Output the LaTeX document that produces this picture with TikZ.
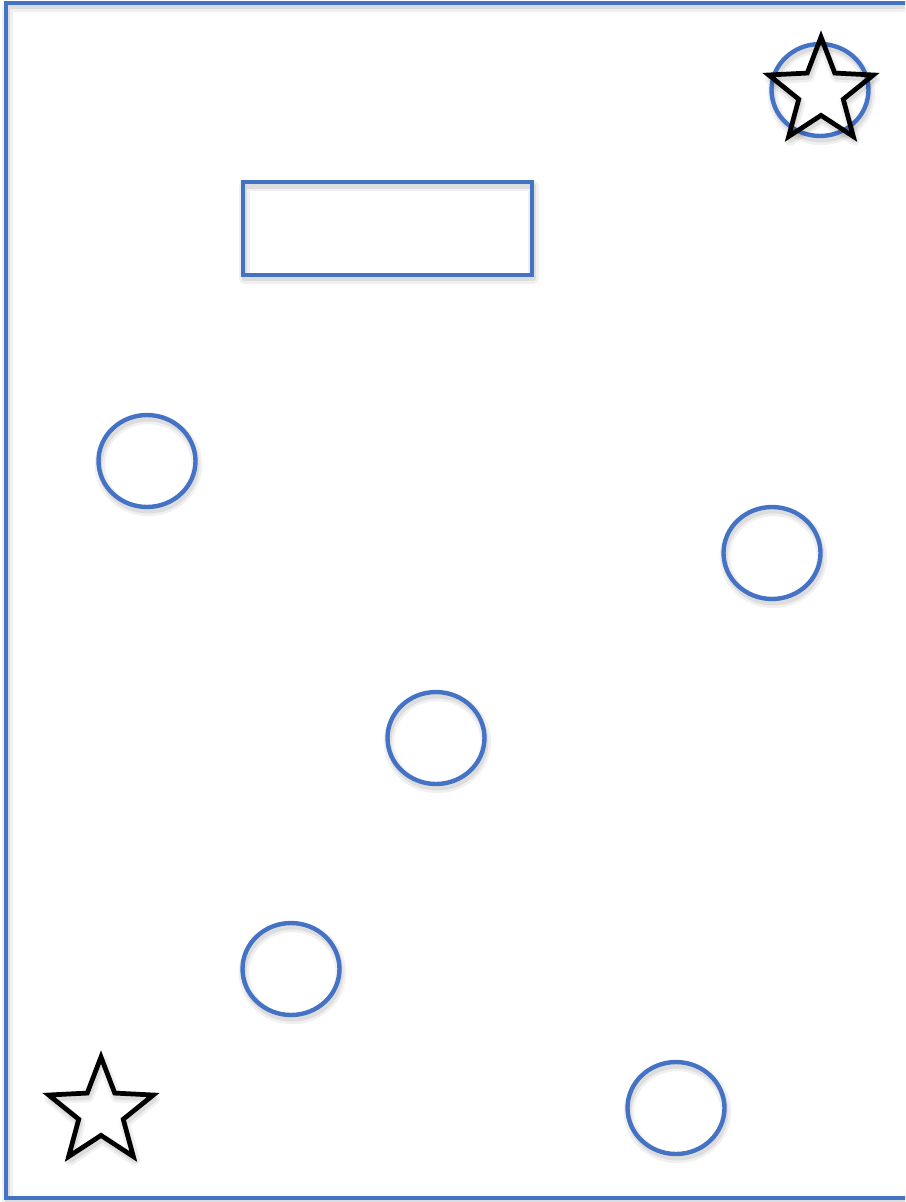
\documentclass[tikz,border=0pt]{standalone}
\usetikzlibrary{shapes.geometric}
\definecolor{shapeblue}{RGB}{68,114,196}

\begin{document}
\begin{tikzpicture}[x=0.02cm, y=-0.02cm,
    soft/.style={preaction={draw=black, draw opacity=0.06, line width=6pt, line join=round, transform canvas={xshift=0.8pt, yshift=-2.2pt}},
                 preaction={draw=black, draw opacity=0.08, line width=3pt, line join=round, transform canvas={xshift=0.8pt, yshift=-2.2pt}}},
    spot/.style={ellipse, draw=shapeblue, line width=2.5pt, minimum width=1.94cm, minimum height=1.84cm, inner sep=0pt, soft},
    box/.style={rectangle, draw=shapeblue, line width=2.5pt, minimum width=5.78cm, minimum height=1.86cm, inner sep=0pt, soft},
    starmark/.style={star, star points=5, star point ratio=2.35, draw=black, line width=2.7pt, minimum size=2.2cm, inner sep=0pt, soft}
]
\useasboundingbox (0,0) rectangle (905,1202);
\clip (0,0) rectangle (905,1202);

% outer frame, its right side runs off the page
\draw[draw=shapeblue, line width=2.7pt, soft] (6,3) rectangle (940,1198);

\node[box] (slot) at (387.5,228.5) {};

\node[spot] (ringA) at (820,90) {};
\node[spot] (ringB) at (147,461) {};
\node[spot] (ringC) at (772,553) {};
\node[spot] (ringD) at (436,738) {};
\node[spot] (ringE) at (291,969) {};
\node[spot] (ringF) at (676,1108) {};

\node[starmark] (starTop) at (821,92) {};
\node[starmark] (starLow) at (101,1112) {};
\end{tikzpicture}
\end{document}
